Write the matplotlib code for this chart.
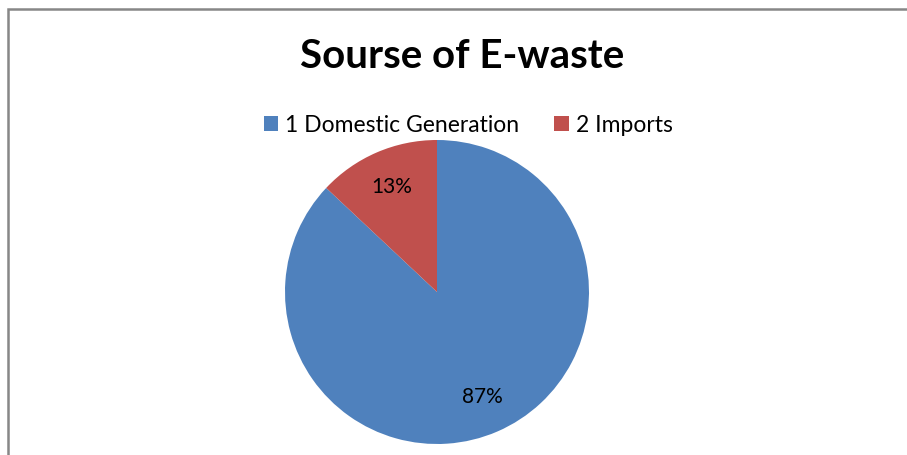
import matplotlib.pyplot as plt
from matplotlib.patches import Rectangle

# Source of e-waste, share in %
labels = ["1 Domestic Generation", "2 Imports"]
values = [87, 13]
colors = ["#4F81BD", "#C0504D"]

plt.rcParams['font.family'] = ['Lato', 'DejaVu Sans']

W, H = 907, 455
fig = plt.figure(figsize=(W / 100, H / 100), dpi=100)

# chart border (clipped on the right and bottom like the original)
fig.patches.append(Rectangle((8 / W, -0.1), 1.2, 1 - 9 / H + 0.1,
                             transform=fig.transFigure, fill=False,
                             edgecolor="#878787", linewidth=1.8))

cx, cy, r = 437, 292, 152
ax = fig.add_axes([(cx - r) / W, (H - cy - r) / H, 2 * r / W, 2 * r / H])
wedges, texts, autotexts = ax.pie(values, colors=colors, startangle=90,
                                  counterclock=False, autopct="%d%%",
                                  pctdistance=0.75,
                                  textprops={"fontsize": 15, "color": "black"})
ax.set_xlim(-1, 1)
ax.set_ylim(-1, 1)
ax.set_aspect("equal")

fig.text(462 / W, 1 - 57 / H, "Sourse of E-waste", ha="center", va="center",
         fontsize=29, fontweight="bold")

fig.legend(wedges, labels, loc="center", bbox_to_anchor=(468 / W, 1 - 125 / H),
           ncol=2, frameon=False, fontsize=16.5, handlelength=0.65,
           handleheight=0.65, handletextpad=0.3, columnspacing=1.5)

fig.savefig("out.png", dpi=100)
